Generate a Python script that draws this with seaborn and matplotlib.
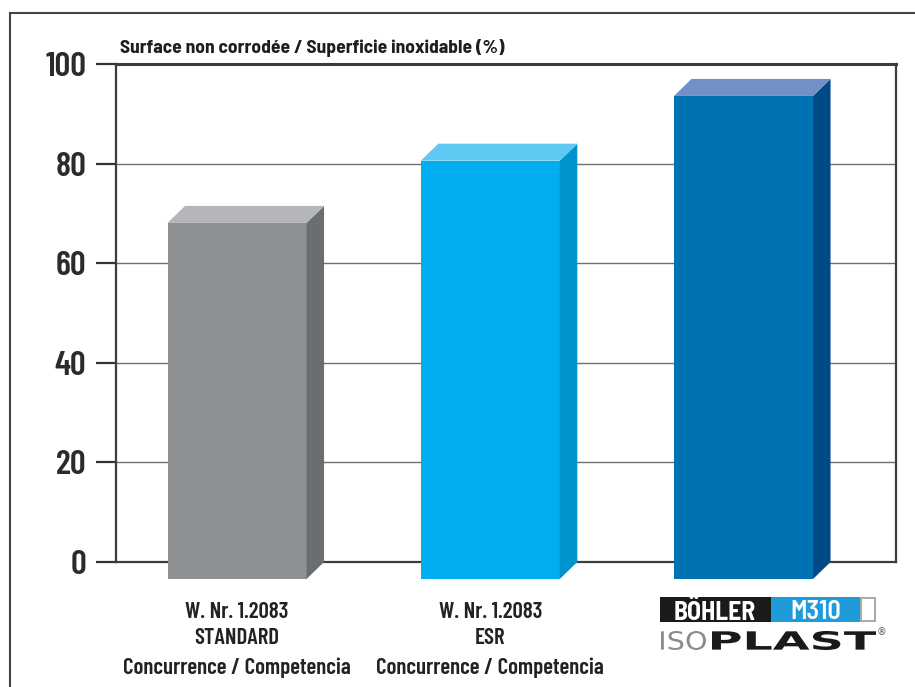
import numpy as np
import pandas as pd
import seaborn as sns
import matplotlib.pyplot as plt
from matplotlib.patches import Polygon, Rectangle, PathPatch
from matplotlib.textpath import TextPath
from matplotlib.font_manager import FontProperties
import matplotlib.transforms as mtransforms

# Data
categories = ["STANDARD", "ESR", "M310"]
values = [71.5, 84.0, 97.0]
label_lines = [
    ["W. Nr. 1.2083", "STANDARD", "Concurrence / Competencia"],
    ["W. Nr. 1.2083", "ESR", "Concurrence / Competencia"],
]
yticks = [0, 20, 40, 60, 80, 100]
title = "Surface non corrodée / Superficie inoxidable (%)"

front_colors = ["#8e9194", "#00aeef", "#0071b2"]
top_colors = ["#b4b6b9", "#5ec9f3", "#7290c6"]
side_colors = ["#6b6e71", "#0094cf", "#004a88"]

sns.set_theme(style="white")
COND = ["Barlow Condensed", "DejaVu Sans"]
SEMI = ["Barlow Semi Condensed", "DejaVu Sans"]
plt.rcParams["font.family"] = COND

W, H, DPI = 915, 687, 100
fig = plt.figure(figsize=(W / DPI, H / DPI), dpi=DPI)
ax_l, ax_r, ax_t, ax_b = 116, 896, 64, 562
ax = fig.add_axes([ax_l / W, 1 - ax_b / H, (ax_r - ax_l) / W, (ax_b - ax_t) / H])

df = pd.DataFrame({"cat": categories, "val": values})
bar_w = 0.549
sns.barplot(data=df, x="cat", y="val", hue="cat", palette=front_colors,
            width=bar_w, saturation=1, legend=False, ax=ax, zorder=3)

xlim = (-0.547, 2.533)
ax.set_xlim(*xlim)
ax.set_ylim(0, 100)

# depth of the 3-D extrusion, in pixels -> data units
depth_px_x, depth_px_y = 17.5, 17.0
ddx = depth_px_x * (xlim[1] - xlim[0]) / (ax_r - ax_l)
ddy = depth_px_y * 100.0 / (ax_b - ax_t)

for i, p in enumerate(ax.patches):
    x0, w, h = p.get_x(), p.get_width(), p.get_height()
    # front face, pushed forward (down-left)
    p.set_x(x0 - ddx)
    p.set_y(-ddy)
    p.set_clip_on(False)
    p.set_edgecolor("none")
    side = Polygon([(x0 + w - ddx, -ddy), (x0 + w, 0), (x0 + w, h),
                    (x0 + w - ddx, h - ddy)], closed=True,
                   facecolor=side_colors[i], edgecolor="none",
                   zorder=3, clip_on=False)
    top = Polygon([(x0 - ddx, h - ddy), (x0, h), (x0 + w, h),
                   (x0 + w - ddx, h - ddy)], closed=True,
                  facecolor=top_colors[i], edgecolor="none",
                  zorder=3, clip_on=False)
    ax.add_patch(side)
    ax.add_patch(top)

# axes styling
ax.set_axisbelow(True)
ax.yaxis.grid(True, color="#6f6f6f", linewidth=1.0)
ax.xaxis.grid(False)
ax.set_yticks(yticks)
ax.set_yticklabels([str(t) for t in yticks], fontsize=25, fontweight=600,
                   color="#2b2b2b")
ax.tick_params(axis="y", direction="out", length=14.5, width=1.6,
               color="#333333", pad=7, left=True)
ax.tick_params(axis="x", bottom=False, labelbottom=False)
ax.set_xlabel("")
ax.set_ylabel("")
for name, sp in ax.spines.items():
    sp.set_visible(True)
    sp.set_color("#3c3c3c")
    sp.set_linewidth(1.6)
    sp.set_zorder(2)
ax.spines["top"].set_linewidth(2.2)

fig.text(120 / W, 1 - 48 / H, title, fontsize=14, fontweight="bold",
         color="#1e1e1e", va="center", ha="left", family=SEMI)

# category labels under the first two bars
blend = mtransforms.blended_transform_factory(ax.transData, fig.transFigure)
line_y = [612, 638, 668]
for i, lines in enumerate(label_lines):
    for txt, yy in zip(lines, line_y):
        ax.text(i - ddx, 1 - yy / H, txt, transform=blend, ha="center",
                va="center", fontsize=16.5, fontweight=600, color="#222222")

# brand mark under the third bar
def fx(px):
    return px / W

def fy(py):
    return 1 - py / H

fig.patches.append(Rectangle((fx(660), fy(622)), fx(771) - fx(660), fy(597) - fy(622),
                             transform=fig.transFigure, facecolor="#1a1a1a",
                             edgecolor="none"))
fig.patches.append(Rectangle((fx(771), fy(622)), fx(860) - fx(771), fy(597) - fy(622),
                             transform=fig.transFigure, facecolor="#1e9bd8",
                             edgecolor="none"))
fig.patches.append(Rectangle((fx(861), fy(621)), fx(875) - fx(861), fy(598) - fy(621),
                             transform=fig.transFigure, facecolor="white",
                             edgecolor="#9a9a9a", linewidth=1.2))
fig.text(fx(715), fy(612), "BÖHLER", color="white", fontsize=18.5,
         fontweight="bold", ha="center", va="center", family=SEMI)
fig.text(fx(816), fy(612), "M310", color="white", fontsize=19,
         fontweight=600, ha="center", va="center", family=SEMI)


def stretched_word(word, x0, x1, y_base, y_top, color, prop):
    """Draw a word as an outline path stretched into a pixel box."""
    tp = TextPath((0, 0), word, size=10, prop=prop)
    bb = tp.get_extents()
    sx = (x1 - x0) / bb.width
    sy = (y_base - y_top) / bb.height
    tr = (mtransforms.Affine2D()
          .translate(-bb.x0, -bb.y0)
          .scale(sx / W, sy / H)
          .translate(fx(x0), fy(y_base))
          + fig.transFigure)
    fig.patches.append(PathPatch(tp, transform=tr, facecolor=color,
                                 edgecolor="none"))


stretched_word("ISO", 661, 706, 650, 631, "#8c8c8c",
               FontProperties(family="DejaVu Sans", weight="normal"))
stretched_word("PLAST", 712, 876, 650, 631, "#1a1a1a",
               FontProperties(family="DejaVu Sans", weight="bold"))
fig.text(fx(882), fy(632), "®", color="#555555", fontsize=7,
         ha="center", va="center", family=["DejaVu Sans"])

# outer frame
fig.patches.append(Rectangle((fx(10), fy(700)), 1.0, fy(13) - fy(700),
                             transform=fig.transFigure, facecolor="none",
                             edgecolor="#444444", linewidth=1.5))

fig.savefig("out.png", dpi=DPI)
